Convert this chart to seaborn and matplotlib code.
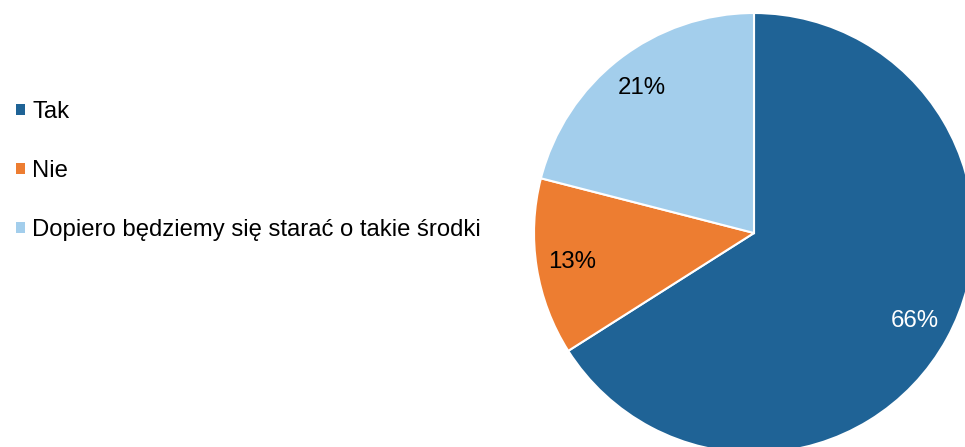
import matplotlib
matplotlib.use("Agg")
import matplotlib.pyplot as plt
from matplotlib.patches import Patch
import seaborn as sns

# ---------- data ----------
labels = ["Tak", "Nie", "Dopiero będziemy się starać o takie środki"]
shares = [66, 13, 21]
colors = ["#1F6396", "#ED7D31", "#A3CEEC"]
pct_colors = ["white", "black", "black"]

sns.set_theme(style="white")
plt.rcParams['font.family'] = ['Liberation Sans', 'DejaVu Sans']
plt.rcParams['text.color'] = 'black'

W, H, DPI = 965, 447, 100
CX, CY, R = 754, 233, 220  # pie centre / radius in pixels

fig = plt.figure(figsize=(W / DPI, H / DPI), dpi=DPI)
ax = fig.add_axes([0, 0, 1, 1])

wedges, texts, autotexts = ax.pie(
    shares, colors=colors, startangle=90, counterclock=False,
    autopct=lambda p: f"{p:.0f}%", pctdistance=0.835,
    wedgeprops=dict(edgecolor="white", linewidth=1.5),
    textprops=dict(fontsize=17.3),
)
for t, c in zip(autotexts, pct_colors):
    t.set_color(c)

# map pixel layout to data coords (radius 1 == R px)
ax.set_aspect("auto")
ax.set_xlim(-CX / R, (W - CX) / R)
ax.set_ylim((CY - H) / R, CY / R)
ax.axis("off")

handles = [Patch(facecolor=c, edgecolor="none") for c in colors]
leg = ax.legend(handles, labels, loc="center left",
                bbox_to_anchor=(0.007, 1 - 171 / H), bbox_transform=fig.transFigure,
                frameon=False, fontsize=17.2, handlelength=0.35, handleheight=0.35,
                handletextpad=0.32, labelspacing=1.56, borderaxespad=0)
for t in leg.get_texts():
    t.set_color("black")

fig.savefig("out.png", dpi=DPI, facecolor="white")
